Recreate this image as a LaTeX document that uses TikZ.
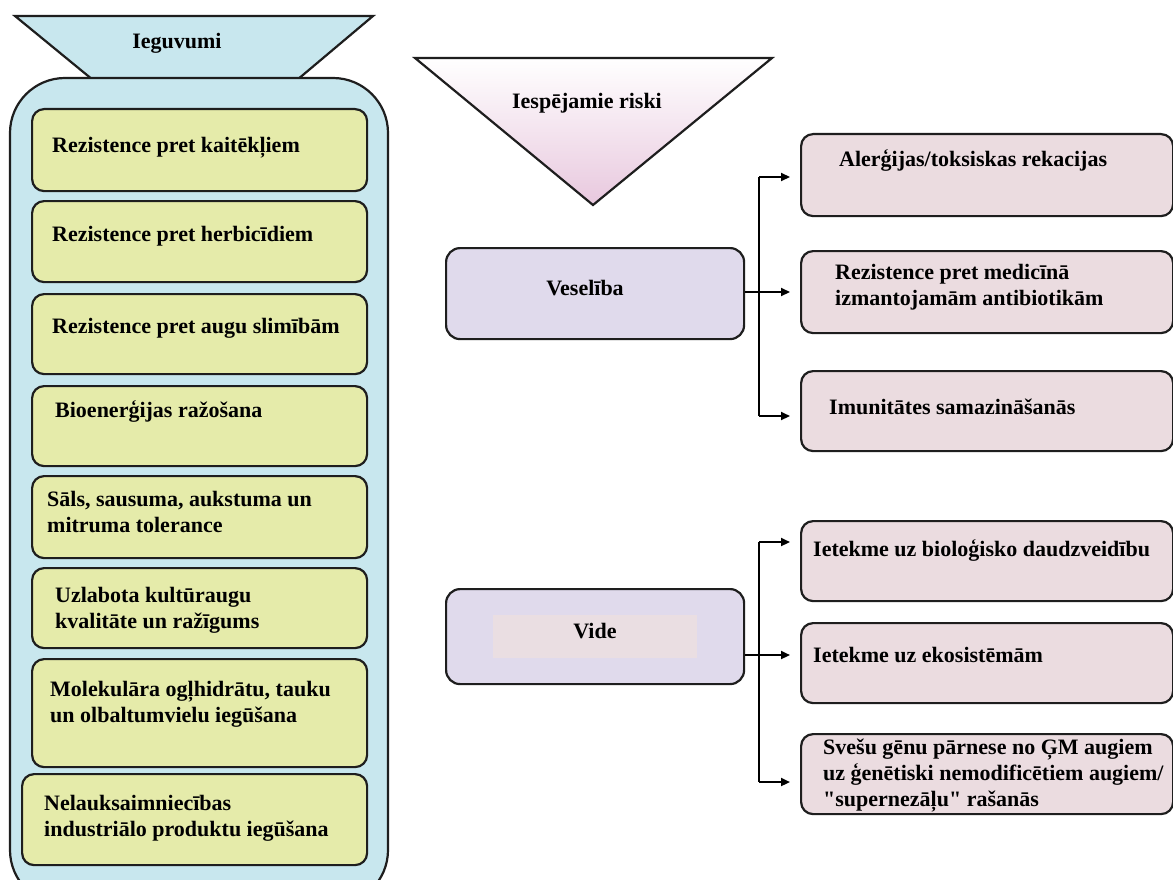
\documentclass[tikz,border=0pt]{standalone}
\usepackage{fontspec}
\setmainfont{Liberation Serif}
% same face without TeX ligature mapping, for straight double quotes
\newfontfamily\straightq{Liberation Serif}
\newcommand{\sq}{{\straightq\bfseries\char34}}
\usetikzlibrary{arrows.meta}

\definecolor{benefitbg}{RGB}{200,231,238}
\definecolor{benefitbox}{RGB}{229,235,170}
\definecolor{riskbox}{RGB}{235,220,224}
\definecolor{catbox}{RGB}{224,218,236}
\definecolor{catinner}{RGB}{234,222,226}
\definecolor{riskpink}{RGB}{232,200,222}
\definecolor{edge}{RGB}{30,30,30}

\tikzset{
  outline/.style={draw=edge, line width=2.2pt},
  gbox/.style={outline, fill=benefitbox, rounded corners=12pt, anchor=north west, inner sep=0pt},
  rbox/.style={outline, fill=riskbox, rounded corners=12pt, anchor=north west, inner sep=0pt},
  cbox/.style={outline, fill=catbox, rounded corners=14pt, anchor=north west, inner sep=0pt},
  label/.style={font=\fontsize{22}{26}\selectfont\bfseries, align=left, inner sep=0pt, anchor=west},
  title/.style={font=\fontsize{22}{26}\selectfont\bfseries, inner sep=0pt},
  arr/.style={line width=2.2pt, draw=black, -{Triangle[length=9pt,width=8pt]}, shorten >=10pt},
  link/.style={line width=2.2pt, draw=black},
}

\begin{document}
\begin{tikzpicture}[x=1pt, y=-1pt]
\useasboundingbox (0,0) rectangle (1173,880);
\fill[white] (0,0) rectangle (1173,880);

% ---- benefits column ----
\draw[outline, fill=benefitbg] (15,16) -- (373,16) -- (297,80) -- (93,80) -- cycle;
\begin{scope}
  \clip (0,0) rectangle (1173,880);
  \draw[outline, fill=benefitbg, rounded corners=55pt] (10,78) rectangle (388,905);
\end{scope}
\node[title] (ben) at (177,43) {Ieguvumi};

\node[gbox, minimum width=335pt, minimum height=82pt] (g1) at (31,108) {};
\node[gbox, minimum width=335pt, minimum height=81pt] (g2) at (31,200) {};
\node[gbox, minimum width=335pt, minimum height=80pt] (g3) at (31,293) {};
\node[gbox, minimum width=335pt, minimum height=80pt] (g4) at (31,385) {};
\node[gbox, minimum width=335pt, minimum height=82pt] (g5) at (31,475) {};
\node[gbox, minimum width=335pt, minimum height=80pt] (g6) at (31,567) {};
\node[gbox, minimum width=335pt, minimum height=108pt] (g7) at (31,658) {};
\node[gbox, minimum width=345pt, minimum height=91pt] (g8) at (21,773) {};

\node[label] (t1) at (52,148) {Rezistence pret kaitēkļiem};
\node[label] (t2) at (52,236) {Rezistence pret herbicīdiem};
\node[label] (t3) at (52,328) {Rezistence pret augu slimībām};
\node[label] (t4) at (55,411) {Bioenerģijas ražošana};
\node[label] (t5) at (47,512) {Sāls, sausuma, aukstuma un\\mitruma tolerance};
\node[label] (t6) at (55,610) {Uzlabota kultūraugu\\kvalitāte un ražīgums};
\node[label] (t7) at (50,704) {Molekulāra ogļhidrātu, tauku\\un olbaltumvielu iegūšana};
\node[label] (t8) at (44,818) {Nelauksaimniecības\\industriālo produktu iegūšana};

% ---- risks ----
\shade[top color=white, bottom color=riskpink] (415,58) -- (772,58) -- (593,205) -- cycle;
\draw[outline, line join=miter] (415,58) -- (772,58) -- (593,205) -- cycle;
\node[title] (risk) at (587,103) {Iespējamie riski};

\node[cbox, minimum width=298pt, minimum height=91pt] (ves) at (445,247) {};
\node[title] (vest) at (585,288) {Veselība};

\node[cbox, minimum width=298pt, minimum height=95pt] (vide) at (445,588) {};
\fill[catinner] (493,615) rectangle (697,658);
\node[title] (videt) at (595,631) {Vide};

\node[rbox, minimum width=372pt, minimum height=82pt] (r1) at (800,133) {};
\node[rbox, minimum width=372pt, minimum height=82pt] (r2) at (800,250) {};
\node[rbox, minimum width=372pt, minimum height=80pt] (r3) at (800,370) {};
\node[rbox, minimum width=372pt, minimum height=80pt] (r4) at (800,520) {};
\node[rbox, minimum width=372pt, minimum height=80pt] (r5) at (800,622) {};
\node[rbox, minimum width=372pt, minimum height=80pt] (r6) at (800,733) {};

\node[label] (s1) at (839,160) {Alerģijas/toksiskas rekacijas};
\node[label] (s2) at (835,287) {Rezistence pret medicīnā\\izmantojamām antibiotikām};
\node[label] (s3) at (829,407) {Imunitātes samazināšanās};
\node[label] (s4) at (813,550) {Ietekme uz bioloģisko daudzveidību};
\node[label] (s5) at (813,655) {Ietekme uz ekosistēmām};
\node[label] (s6) at (823,776) {Svešu gēnu pārnese no ĢM augiem\\uz ģenētiski nemodificētiem augiem/\\\sq supernezāļu\sq{} rašanās};

% ---- connectors ----
\coordinate (ja) at (759,177);
\coordinate (jb) at (759,292);
\coordinate (jc) at (759,416);
\draw[link] (ja) -- (jc);
\draw[arr] (ja) -- (ja -| r1.west);
\draw[arr] (ves.east |- jb) -- (jb -| r2.west);
\draw[arr] (jc) -- (jc -| r3.west);

\coordinate (jd) at (759,542);
\coordinate (je) at (759,655);
\coordinate (jf) at (759,782);
\draw[link] (jd) -- (jf);
\draw[arr] (jd) -- (jd -| r4.west);
\draw[arr] (vide.east |- je) -- (je -| r5.west);
\draw[arr] (jf) -- (jf -| r6.west);
\end{tikzpicture}
\end{document}
